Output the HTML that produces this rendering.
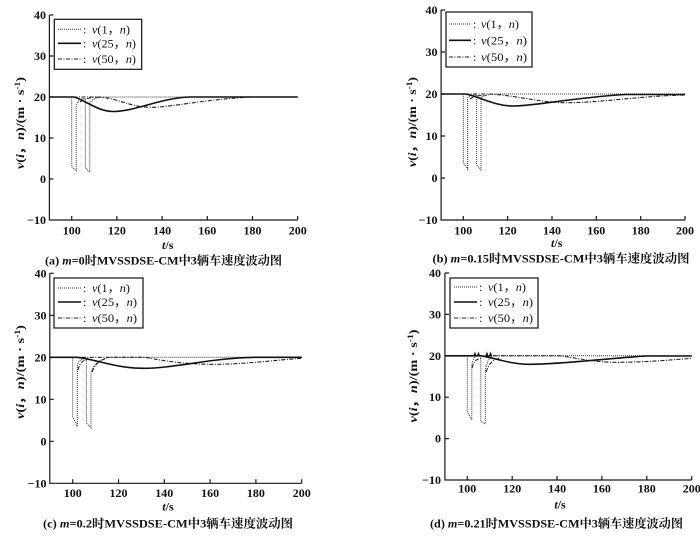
<!DOCTYPE html>
<html>
<head>
<meta charset="utf-8">
<style>
html,body{margin:0;padding:0;background:#fff;}
svg{display:block;}
.ax{stroke:#1a1a1a;stroke-width:1.2;fill:none}
.tk{font-family:"Liberation Serif",serif;font-weight:bold;font-size:12px;fill:#111}
.dot{stroke:#333;stroke-width:1;fill:none;stroke-dasharray:1 1}
.sol{stroke:#111;stroke-width:1.6;fill:none}
.dd{stroke:#222;stroke-width:1.1;fill:none;stroke-dasharray:4 1.5 1 1.5}
.lg{font-family:"Liberation Serif",serif;font-size:12px;fill:#111}
.cap{font-family:"Liberation Serif","Noto Serif CJK SC",serif;font-weight:bold;font-size:12px;fill:#111}
.yl{font-family:"Liberation Serif",serif;font-weight:bold;font-size:12px;fill:#111}
</style>
</head>
<body>
<svg width="700" height="537" viewBox="0 0 700 537" xmlns="http://www.w3.org/2000/svg">
<rect width="700" height="537" fill="#fff"/>

<!-- ============ Panel (a) ============ -->
<path class="ax" d="M49.4,15 V220 H297.7"/>
<path class="ax" d="M49.4,15h4 M49.4,56h4 M49.4,97h4 M49.4,138h4 M49.4,179h4 M71.7,220v-4 M116.9,220v-4 M162.1,220v-4 M207.3,220v-4 M252.5,220v-4 M297.7,220v-4"/>
<g class="tk" text-anchor="end">
<text x="46" y="19">40</text><text x="46" y="60">30</text><text x="46" y="101">20</text><text x="46" y="142">10</text><text x="46" y="183">0</text><text x="46" y="224">−10</text>
</g>
<g class="tk" text-anchor="middle">
<text x="71.7" y="234.5">100</text><text x="116.9" y="234.5">120</text><text x="162.1" y="234.5">140</text><text x="207.3" y="234.5">160</text><text x="252.5" y="234.5">180</text><text x="297.7" y="234.5">200</text>
</g>
<path class="dot" d="M49.4,97 H71.7 V166.7 L76.2,170.8 V105.2 C78,100 81,98.5 85.3,98.5 V167.9 L89.8,172 V103.2 C92,99 96,97.5 105,97 H297.7"/>
<path class="dd" d="M49.4,97 H100 C120,99 130,107 150,107.3 C170,107.5 200,100 250,97 H297.7"/>
<path class="dd" d="M80,102 C85,98.5 90,97.5 99,97"/>
<path class="sol" d="M49.4,97 H74 C85,100 98,111.5 113,111.5 C135,111.5 160,98 190,97 H297.7"/>
<rect x="54.3" y="19.3" width="87.4" height="50" fill="#fff" stroke="#111" stroke-width="1.2"/>
<path class="dot" d="M58,29.3 H81"/><path class="sol" d="M58,43.3 H81"/><path class="dd" d="M58,59 H81"/>
<g class="lg">
<text x="83" y="33.3">:</text><text x="83" y="47.3">:</text><text x="83" y="63">:</text>
<text x="92" y="33.3" textLength="38" lengthAdjust="spacingAndGlyphs"><tspan font-style="italic">v</tspan>(1，<tspan font-style="italic">n</tspan>)</text>
<text x="92" y="47.3" textLength="44" lengthAdjust="spacingAndGlyphs"><tspan font-style="italic">v</tspan>(25，<tspan font-style="italic">n</tspan>)</text>
<text x="92" y="63" textLength="44" lengthAdjust="spacingAndGlyphs"><tspan font-style="italic">v</tspan>(50，<tspan font-style="italic">n</tspan>)</text>
</g>
<text class="yl" transform="translate(24,123) rotate(-90)" text-anchor="middle" textLength="92" lengthAdjust="spacingAndGlyphs"><tspan font-style="italic">v</tspan>(<tspan font-style="italic">i</tspan>，<tspan font-style="italic">n</tspan>)/(m · s<tspan font-size="8" dy="-4">-1</tspan><tspan dy="4">)</tspan></text>
<text class="tk" x="167.7" y="249" text-anchor="middle"><tspan font-style="italic">t</tspan>/s</text>
<text class="cap" x="163.5" y="264.5" text-anchor="middle" textLength="237" lengthAdjust="spacingAndGlyphs">(a) <tspan font-style="italic">m</tspan>=0时MVSSDSE-CM中3辆车速度波动图</text>

<!-- ============ Panel (b) ============ -->
<path class="ax" d="M441.1,10 V220 H685"/>
<path class="ax" d="M441.1,10h4 M441.1,52h4 M441.1,94h4 M441.1,136h4 M441.1,178h4 M463.3,220v-4 M507.6,220v-4 M552,220v-4 M596.3,220v-4 M640.7,220v-4 M685,220v-4"/>
<g class="tk" text-anchor="end">
<text x="437.5" y="14">40</text><text x="437.5" y="56">30</text><text x="437.5" y="98">20</text><text x="437.5" y="140">10</text><text x="437.5" y="182">0</text><text x="437.5" y="224">−10</text>
</g>
<g class="tk" text-anchor="middle">
<text x="463.3" y="234.5">100</text><text x="507.6" y="234.5">120</text><text x="552" y="234.5">140</text><text x="596.3" y="234.5">160</text><text x="640.7" y="234.5">180</text><text x="685" y="234.5">200</text>
</g>
<path class="dot" d="M441.1,94 H463.3 V162.9 L467.7,169.2 V98 C469,95.5 472,95 476.6,95 V164.8 L481,169.8 V98 C484,95 490,94 497,94 H685"/>
<path class="dd" d="M441.1,94 H490 C520,96 540,102.7 567,102.7 C600,102.7 640,96 685,95"/>
<path class="dd" d="M470,99 C474,96 478,95.5 486,95.5"/>
<path class="sol" d="M441.1,94 H466 C480,97 495,106 513,106 C535,106 570,98 625,94.5 H685"/>
<rect x="446" y="12" width="86" height="55" fill="#fff" stroke="#111" stroke-width="1.2"/>
<path class="dot" d="M449,24 H471"/><path class="sol" d="M449,40.3 H471"/><path class="dd" d="M449,57 H471"/>
<g class="lg">
<text x="473" y="28">:</text><text x="473" y="44.3">:</text><text x="473" y="61">:</text>
<text x="481" y="28" textLength="38" lengthAdjust="spacingAndGlyphs"><tspan font-style="italic">v</tspan>(1，<tspan font-style="italic">n</tspan>)</text>
<text x="481" y="44.3" textLength="46" lengthAdjust="spacingAndGlyphs"><tspan font-style="italic">v</tspan>(25，<tspan font-style="italic">n</tspan>)</text>
<text x="481" y="61" textLength="46" lengthAdjust="spacingAndGlyphs"><tspan font-style="italic">v</tspan>(50，<tspan font-style="italic">n</tspan>)</text>
</g>
<text class="yl" transform="translate(416,122) rotate(-90)" text-anchor="middle" textLength="90" lengthAdjust="spacingAndGlyphs"><tspan font-style="italic">v</tspan>(<tspan font-style="italic">i</tspan>，<tspan font-style="italic">n</tspan>)/(m · s<tspan font-size="8" dy="-4">-1</tspan><tspan dy="4">)</tspan></text>
<text class="tk" x="556.7" y="247" text-anchor="middle"><tspan font-style="italic">t</tspan>/s</text>
<text class="cap" x="561" y="262.5" text-anchor="middle" textLength="257" lengthAdjust="spacingAndGlyphs">(b) <tspan font-style="italic">m</tspan>=0.15时MVSSDSE-CM中3辆车速度波动图</text>

<!-- ============ Panel (c) ============ -->
<path class="ax" d="M49.8,273.3 V483.3 H301.7"/>
<path class="ax" d="M49.8,273.3h4 M49.8,315.3h4 M49.8,357.3h4 M49.8,399.3h4 M49.8,441.3h4 M72.7,483.3v-4 M118.5,483.3v-4 M164.3,483.3v-4 M210.1,483.3v-4 M255.9,483.3v-4 M301.7,483.3v-4"/>
<g class="tk" text-anchor="end">
<text x="46.5" y="277.3">40</text><text x="46.5" y="319.3">30</text><text x="46.5" y="361.3">20</text><text x="46.5" y="403.3">10</text><text x="46.5" y="445.3">0</text><text x="46.5" y="487.3">−10</text>
</g>
<g class="tk" text-anchor="middle">
<text x="72.7" y="497">100</text><text x="118.5" y="497">120</text><text x="164.3" y="497">140</text><text x="210.1" y="497">160</text><text x="255.9" y="497">180</text><text x="301.7" y="497">200</text>
</g>
<path class="dot" d="M49.8,357.3 H72.7 V416.7 L77.3,426.7 V365 C79,360 82,358.5 86.4,358.5 V423 L91,428 V372 C94,364 100,359 110,357.3 H301.7"/>
<path class="dd" d="M49.8,357.3 H145 C165,361 185,364.3 213,364.3 C245,364.3 275,360 301.7,358.3"/>
<path class="dd" d="M78,370 C80,362 83,360 88,360 M92,372 C95,365 98,361 105,359"/>
<path class="sol" d="M49.8,357.3 H77 C95,359 115,368.3 143.7,368.3 C175,368.3 210,358 255,357.3 H301.7"/>
<rect x="54" y="278" width="89" height="50" fill="#fff" stroke="#111" stroke-width="1.2"/>
<path class="dot" d="M58,288 H81"/><path class="sol" d="M58,302 H81"/><path class="dd" d="M58,318 H81"/>
<g class="lg">
<text x="83" y="292">:</text><text x="83" y="306">:</text><text x="83" y="322">:</text>
<text x="92" y="292" textLength="38" lengthAdjust="spacingAndGlyphs"><tspan font-style="italic">v</tspan>(1，<tspan font-style="italic">n</tspan>)</text>
<text x="92" y="306" textLength="45" lengthAdjust="spacingAndGlyphs"><tspan font-style="italic">v</tspan>(25，<tspan font-style="italic">n</tspan>)</text>
<text x="92" y="322" textLength="45" lengthAdjust="spacingAndGlyphs"><tspan font-style="italic">v</tspan>(50，<tspan font-style="italic">n</tspan>)</text>
</g>
<text class="yl" transform="translate(24,372) rotate(-90)" text-anchor="middle" textLength="94" lengthAdjust="spacingAndGlyphs"><tspan font-style="italic">v</tspan>(<tspan font-style="italic">i</tspan>，<tspan font-style="italic">n</tspan>)/(m · s<tspan font-size="8" dy="-4">-1</tspan><tspan dy="4">)</tspan></text>
<text class="tk" x="168" y="510.5" text-anchor="middle"><tspan font-style="italic">t</tspan>/s</text>
<text class="cap" x="168" y="527.5" text-anchor="middle" textLength="250" lengthAdjust="spacingAndGlyphs">(c) <tspan font-style="italic">m</tspan>=0.2时MVSSDSE-CM中3辆车速度波动图</text>

<!-- ============ Panel (d) ============ -->
<path class="ax" d="M444.9,273 V480 H691.7"/>
<path class="ax" d="M444.9,273h4 M444.9,314.4h4 M444.9,355.8h4 M444.9,397.2h4 M444.9,438.6h4 M467.3,480v-4 M512.2,480v-4 M557.1,480v-4 M601.9,480v-4 M646.8,480v-4 M691.7,480v-4"/>
<g class="tk" text-anchor="end">
<text x="441" y="277">40</text><text x="441" y="318.4">30</text><text x="441" y="359.8">20</text><text x="441" y="401.2">10</text><text x="441" y="442.6">0</text><text x="441" y="484">−10</text>
</g>
<g class="tk" text-anchor="middle">
<text x="467.3" y="492.5">100</text><text x="512.2" y="492.5">120</text><text x="557.1" y="492.5">140</text><text x="601.9" y="492.5">160</text><text x="646.8" y="492.5">180</text><text x="691.7" y="492.5">200</text>
</g>
<path class="dot" d="M444.9,355.8 H467.3 V411.7 L471.8,420 V365 C473,359 474.5,356 477,355.5 H480.8 V421.7 L485.3,424 V370 C487,362 489,357 493,355.8 H691.7"/>
<path class="dd" d="M444.9,355.8 H560 C580,358.5 595,362.3 615,362.3 C645,362.3 670,360 691.7,358.3"/>
<path class="dd" d="M472,368 C474,361 476,359 481,358.5 M486,372 C489,364 492,360 500,358"/>
<path class="sol" d="M444.9,355.8 H481 C495,358 510,364.3 530,364.3 C560,364.3 600,359 645,356 H691.7"/>
<g fill="#111">
<polygon points="473.2,356.5 475,351.5 476.8,356.5"/>
<polygon points="476.7,356.5 478.5,351.5 480.3,356.5"/>
<polygon points="485.2,356.5 487,351.5 488.8,356.5"/>
<polygon points="488.7,356.5 490.5,351.5 492.3,356.5"/>
</g>
<rect x="450" y="278" width="88" height="50" fill="#fff" stroke="#111" stroke-width="1.2"/>
<path class="dot" d="M454,287 H477"/><path class="sol" d="M454,302 H477"/><path class="dd" d="M454,318 H477"/>
<g class="lg">
<text x="479" y="291">:</text><text x="479" y="306">:</text><text x="479" y="322">:</text>
<text x="488" y="291" textLength="38" lengthAdjust="spacingAndGlyphs"><tspan font-style="italic">v</tspan>(1，<tspan font-style="italic">n</tspan>)</text>
<text x="488" y="306" textLength="45" lengthAdjust="spacingAndGlyphs"><tspan font-style="italic">v</tspan>(25，<tspan font-style="italic">n</tspan>)</text>
<text x="488" y="322" textLength="45" lengthAdjust="spacingAndGlyphs"><tspan font-style="italic">v</tspan>(50，<tspan font-style="italic">n</tspan>)</text>
</g>
<text class="yl" transform="translate(417,376) rotate(-90)" text-anchor="middle" textLength="93" lengthAdjust="spacingAndGlyphs"><tspan font-style="italic">v</tspan>(<tspan font-style="italic">i</tspan>，<tspan font-style="italic">n</tspan>)/(m · s<tspan font-size="8" dy="-4">-1</tspan><tspan dy="4">)</tspan></text>
<text class="tk" x="560" y="508.5" text-anchor="middle"><tspan font-style="italic">t</tspan>/s</text>
<text class="cap" x="556.5" y="527.5" text-anchor="middle" textLength="253" lengthAdjust="spacingAndGlyphs">(d) <tspan font-style="italic">m</tspan>=0.21时MVSSDSE-CM中3辆车速度波动图</text>
</svg>
</body>
</html>
